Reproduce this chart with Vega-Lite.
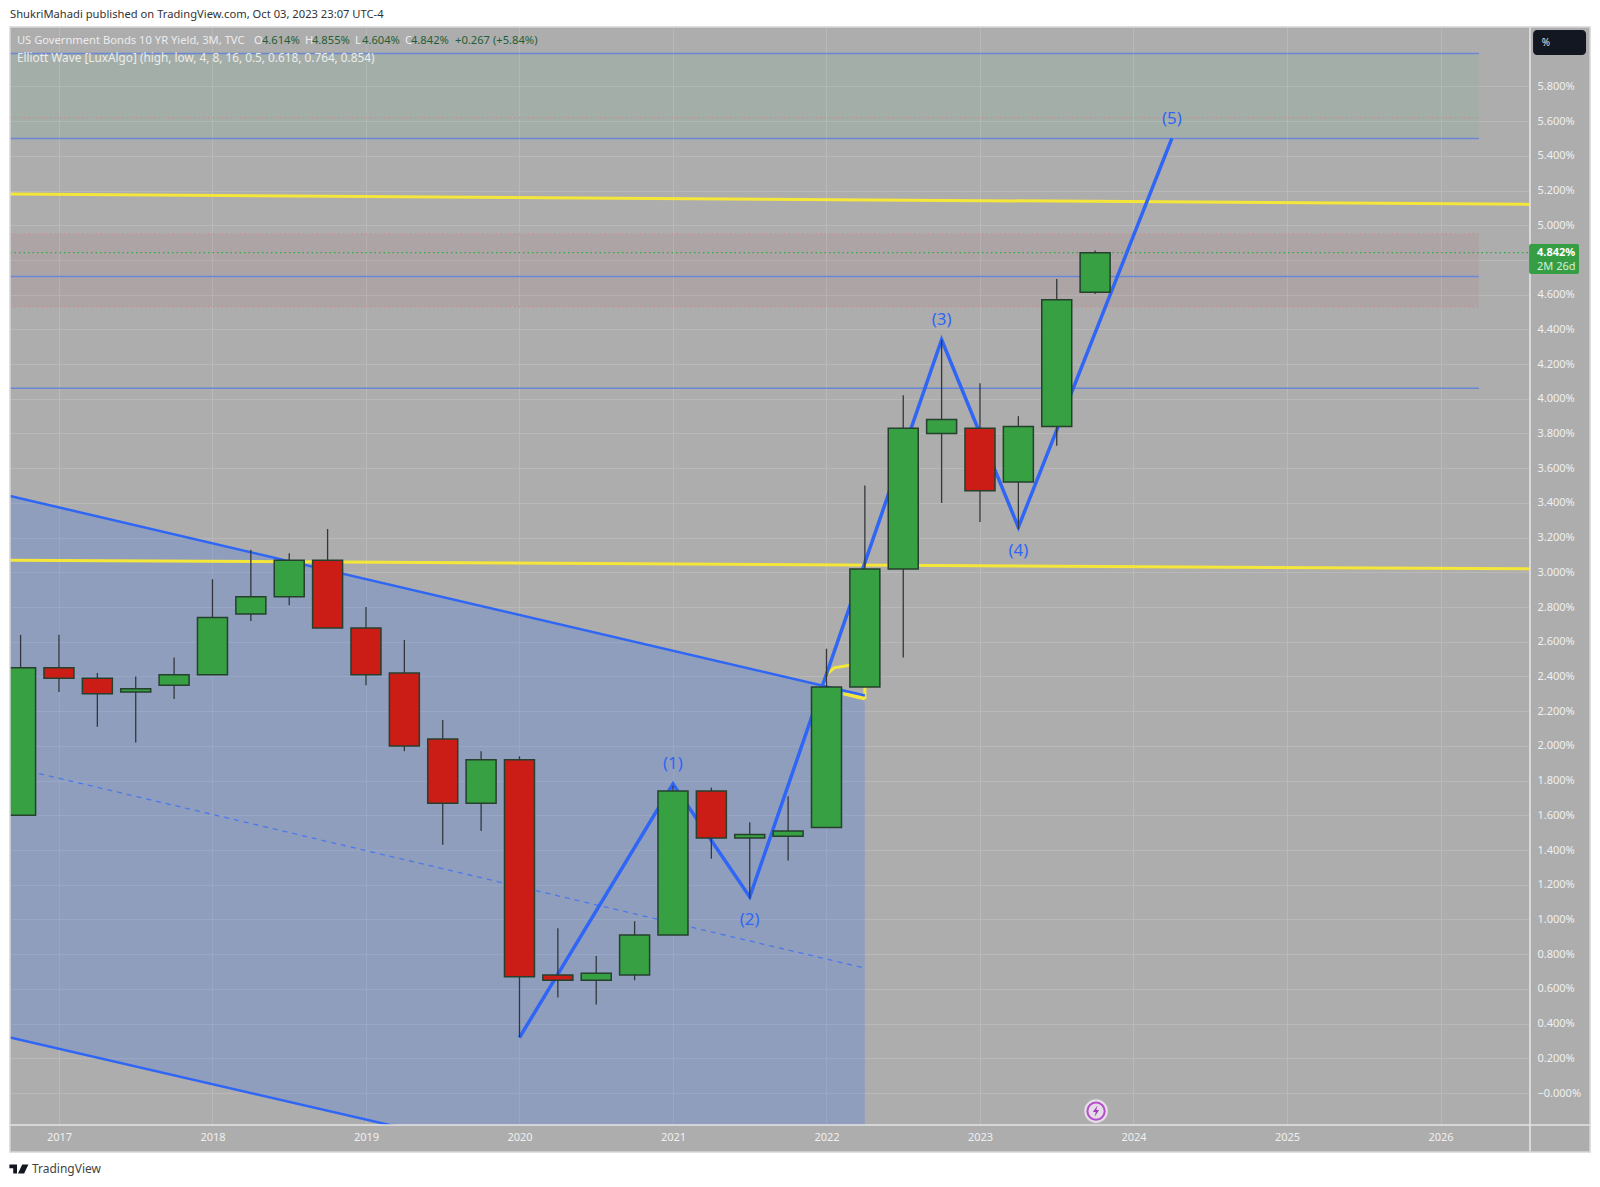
{
"$schema":"https://vega.github.io/schema/vega-lite/v6.json",
"width":1520,"height":1098,"autosize":"none","padding":{"left":10,"top":27,"right":70,"bottom":62},
"background":"#ffffff",
"view":{"fill":"#adadad","stroke":null},
"config":{"text":{"font":"Noto Sans"}},
"encoding":{
"x":{"field":"x","type":"quantitative","scale":{"domain":[2016.681,2026.583],"nice":false,"zero":false,"padding":0},"axis":null},
"y":{"field":"y","type":"quantitative","scale":{"domain":[-0.184,6.142],"nice":false,"zero":false,"padding":0},"axis":null}
},
"resolve":{"scale":{"color":"independent"},"axis":{"x":"independent","y":"independent"}},
"layer":[
{"data":{"values":[{"x":2026.583,"x2":2026.974,"y":-0.34,"y2":6.142},{"x":2016.681,"x2":2026.974,"y":-0.34,"y2":-0.184}]},
"mark":{"type":"rect","fill":"#adadad","clip":false},
"encoding":{"x":{"field":"x","type":"quantitative","scale":{"domain":[2016.681,2026.583],"nice":false,"zero":false,"padding":0},
"axis":{"title":null,"orient":"bottom","values":[2017,2018,2019,2020,2021,2022,2023,2024,2025,2026],"domain":false,"ticks":false,"labels":false,"gridColor":"#b9b9b9","gridWidth":1,"grid":true,"zindex":0}},
"y":{"field":"y","type":"quantitative","scale":{"domain":[-0.184,6.142],"nice":false,"zero":false,"padding":0},
"axis":{"title":null,"orient":"right","values":[0,0.2,0.4,0.6,0.8,1,1.2,1.4,1.6,1.8,2,2.2,2.4,2.6,2.8,3,3.2,3.4,3.6,3.8,4,4.2,4.4,4.6,4.8,5,5.2,5.4,5.6,5.8],"domain":false,"ticks":false,"labels":false,"gridColor":"#b9b9b9","gridWidth":1,"grid":true,"zindex":0}},
"x2":{"field":"x2"},"y2":{"field":"y2"}}},
{"data":{"values":[{"zone":"target","x":2016.681,"x2":2026.25,"y":5.5,"y2":5.99},{"zone":"retrace","x":2016.681,"x2":2026.25,"y":4.53,"y2":4.95}]},
"mark":{"type":"rect","opacity":0.13},"encoding":{"x2":{"field":"x2"},"y2":{"field":"y2"},"color":{"field":"zone","type":"nominal","scale":{"domain":["target","retrace"],"range":["#6bbb8c","#b47171"]},"legend":null}}},
{"data":{"values":[{"x":2016.681,"y":3.44,"y2":0.32},{"x":2022.25,"y":2.29,"y2":-0.815}]},
"mark":{"type":"area","color":"#507fe9","opacity":0.3,"clip":true},"encoding":{"y2":{"field":"y2"}}},
{"data":{"values":[{"i":1,"x":2021.99,"y":2.34},{"i":2,"x":2022.0,"y":2.41},{"i":3,"x":2022.05,"y":2.45},{"i":4,"x":2022.15,"y":2.465},{"i":5,"x":2022.25,"y":2.46},{"i":6,"x":2022.25,"y":2.28},{"i":7,"x":2022.11,"y":2.3},{"i":8,"x":2022.25,"y":2.27}]},
"mark":{"type":"line","color":"#f5e63a","strokeWidth":3},"encoding":{"order":{"field":"i"}}},
{"data":{"values":[{"x":2016.681,"x2":2022.25,"y":3.44,"y2":2.29},{"x":2016.681,"x2":2022.25,"y":0.32,"y2":-0.815}]},
"mark":{"type":"rule","color":"#2f66f5","strokeWidth":2.5,"clip":true},"encoding":{"x2":{"field":"x2"},"y2":{"field":"y2"}}},
{"data":{"values":[{"x":2016.681,"x2":2022.25,"y":1.88,"y2":0.72}]},
"mark":{"type":"rule","color":"#4a78ee","strokeWidth":1.3,"strokeDash":[5,5]},"encoding":{"x2":{"field":"x2"},"y2":{"field":"y2"}}},
{"data":{"values":[{"x":2016.681,"x2":2026.25,"y":5.99},{"x":2016.681,"x2":2026.25,"y":5.5},{"x":2016.681,"x2":2026.25,"y":4.705},{"x":2016.681,"x2":2026.25,"y":4.06}]},
"mark":{"type":"rule","color":"#6a86d6","strokeWidth":1.5},"encoding":{"x2":{"field":"x2"}}},
{"data":{"values":[{"x":2016.681,"x2":2026.25,"y":5.62},{"x":2016.681,"x2":2026.25,"y":4.95},{"x":2016.681,"x2":2026.25,"y":4.53}]},
"mark":{"type":"rule","color":"#d08a8a","strokeWidth":1.2,"strokeDash":[1.5,3]},"encoding":{"x2":{"field":"x2"}}},
{"data":{"values":[{"x":2016.681,"x2":2026.583,"y":4.842}]},
"mark":{"type":"rule","color":"#2fa84a","strokeWidth":1.1,"strokeDash":[1.5,3]},"encoding":{"x2":{"field":"x2"}}},
{"data":{"values":[{"x":2016.681,"x2":2026.583,"y":5.18,"y2":5.12},{"x":2016.681,"x2":2026.583,"y":3.07,"y2":3.02}]},
"mark":{"type":"rule","color":"#f5e63a","strokeWidth":3},"encoding":{"x2":{"field":"x2"},"y2":{"field":"y2"}}},
{"data":{"values":[{"i":1,"x":2020,"y":0.32},{"i":2,"x":2021,"y":1.78},{"i":3,"x":2021.5,"y":1.13},{"i":4,"x":2022.75,"y":4.34},{"i":5,"x":2023.25,"y":3.26},{"i":6,"x":2024.25,"y":5.5}]},
"mark":{"type":"line","color":"#2f66f5","strokeWidth":3.5},"encoding":{"order":{"field":"i"}}},
{"data":{"name":"candles","values":[
{"x":2016.75,"open":1.6,"close":2.45,"high":2.64,"low":1.6,"dir":"up"},
{"x":2017,"open":2.45,"close":2.39,"high":2.64,"low":2.31,"dir":"down"},
{"x":2017.25,"open":2.39,"close":2.3,"high":2.42,"low":2.11,"dir":"down"},
{"x":2017.5,"open":2.31,"close":2.33,"high":2.4,"low":2.02,"dir":"up"},
{"x":2017.75,"open":2.35,"close":2.41,"high":2.51,"low":2.27,"dir":"up"},
{"x":2018,"open":2.41,"close":2.74,"high":2.96,"low":2.41,"dir":"up"},
{"x":2018.25,"open":2.76,"close":2.86,"high":3.13,"low":2.72,"dir":"up"},
{"x":2018.5,"open":2.86,"close":3.07,"high":3.11,"low":2.81,"dir":"up"},
{"x":2018.75,"open":3.07,"close":2.68,"high":3.25,"low":2.68,"dir":"down"},
{"x":2019,"open":2.68,"close":2.41,"high":2.8,"low":2.35,"dir":"down"},
{"x":2019.25,"open":2.42,"close":2.0,"high":2.61,"low":1.97,"dir":"down"},
{"x":2019.5,"open":2.04,"close":1.67,"high":2.15,"low":1.43,"dir":"down"},
{"x":2019.75,"open":1.67,"close":1.92,"high":1.97,"low":1.51,"dir":"up"},
{"x":2020,"open":1.92,"close":0.67,"high":1.94,"low":0.32,"dir":"down"},
{"x":2020.25,"open":0.68,"close":0.65,"high":0.95,"low":0.55,"dir":"down"},
{"x":2020.5,"open":0.65,"close":0.69,"high":0.79,"low":0.51,"dir":"up"},
{"x":2020.75,"open":0.68,"close":0.91,"high":0.99,"low":0.65,"dir":"up"},
{"x":2021,"open":0.91,"close":1.74,"high":1.77,"low":0.91,"dir":"up"},
{"x":2021.25,"open":1.74,"close":1.47,"high":1.76,"low":1.35,"dir":"down"},
{"x":2021.5,"open":1.47,"close":1.49,"high":1.56,"low":1.12,"dir":"up"},
{"x":2021.75,"open":1.48,"close":1.51,"high":1.71,"low":1.34,"dir":"up"},
{"x":2022,"open":1.53,"close":2.34,"high":2.56,"low":1.53,"dir":"up"},
{"x":2022.25,"open":2.34,"close":3.02,"high":3.5,"low":2.34,"dir":"up"},
{"x":2022.5,"open":3.02,"close":3.83,"high":4.02,"low":2.51,"dir":"up"},
{"x":2022.75,"open":3.8,"close":3.88,"high":4.34,"low":3.4,"dir":"up"},
{"x":2023,"open":3.83,"close":3.47,"high":4.09,"low":3.29,"dir":"down"},
{"x":2023.25,"open":3.52,"close":3.84,"high":3.9,"low":3.25,"dir":"up"},
{"x":2023.5,"open":3.84,"close":4.57,"high":4.69,"low":3.73,"dir":"up"},
{"x":2023.75,"open":4.614,"close":4.842,"high":4.855,"low":4.604,"dir":"up"}
]},
"mark":{"type":"rule","color":"#33373c","strokeWidth":1.3,"clip":true},
"encoding":{"y":{"field":"low","type":"quantitative","scale":{"domain":[-0.184,6.142],"nice":false,"zero":false,"padding":0},"axis":null},"y2":{"field":"high"}}},
{"data":{"name":"candles"},
"mark":{"type":"bar","orient":"vertical","size":30,"stroke":"#25402c","strokeWidth":1.5,"clip":true},
"encoding":{"y":{"field":"open","type":"quantitative","scale":{"domain":[-0.184,6.142],"nice":false,"zero":false,"padding":0},"axis":null},"y2":{"field":"close"},
"color":{"field":"dir","type":"nominal","scale":{"domain":["up","down"],"range":["#36a043","#cc1c16"]},"legend":null}}},
{"data":{"values":[{"x":2021,"y":1.9,"label":"(1)"},{"x":2021.5,"y":1.0,"label":"(2)"},{"x":2022.75,"y":4.46,"label":"(3)"},{"x":2023.25,"y":3.13,"label":"(4)"},{"x":2024.25,"y":5.62,"label":"(5)"}]},
"mark":{"type":"text","color":"#2f66f5","fontSize":17,"align":"center","baseline":"middle","dy":1},"encoding":{"text":{"field":"label"}}},
{"data":{"values":[{"x":2016.726,"y":6.062,"label":"US Government Bonds 10 YR Yield, 3M, TVC","tone":"name"},
{"x":2018.27,"y":6.062,"label":"O","tone":"name"},{"x":2018.322,"y":6.062,"label":"4.614%","tone":"value"},
{"x":2018.603,"y":6.062,"label":"H","tone":"name"},{"x":2018.648,"y":6.062,"label":"4.855%","tone":"value"},
{"x":2018.928,"y":6.062,"label":"L","tone":"name"},{"x":2018.974,"y":6.062,"label":"4.604%","tone":"value"},
{"x":2019.254,"y":6.062,"label":"C","tone":"name"},{"x":2019.293,"y":6.062,"label":"4.842%","tone":"value"},
{"x":2019.58,"y":6.062,"label":"+0.267 (+5.84%)","tone":"value"}]},
"mark":{"type":"text","fontSize":11.2,"align":"left","baseline":"middle"},
"encoding":{"text":{"field":"label"},"color":{"field":"tone","type":"nominal","scale":{"domain":["name","value"],"range":["#ececec","#1f5f35"]},"legend":null}}},
{"data":{"values":[{"x":2016.726,"y":5.964,"label":"Elliott Wave [LuxAlgo] (high, low, 4, 8, 16, 0.5, 0.618, 0.764, 0.854)"}]},
"mark":{"type":"text","fontSize":11.8,"align":"left","baseline":"middle","color":"#ececec"},"encoding":{"text":{"field":"label"}}},
{"data":{"values":[{"x":2016.681,"y":6.214,"label":"ShukriMahadi published on TradingView.com, Oct 03, 2023 23:07 UTC-4"}]},
"mark":{"type":"text","fontSize":11.2,"align":"left","baseline":"middle","color":"#333333","clip":false},"encoding":{"text":{"field":"label"}}},
{"data":{"values":[{"x":2016.824,"y":-0.438,"label":"TradingView"}]},
"mark":{"type":"text","fontSize":12,"align":"left","baseline":"middle","color":"#444444","clip":false},"encoding":{"text":{"field":"label"}}},
{"data":{"values":[{"x":2016.739,"y":-0.438}]},
"mark":{"type":"point","filled":true,"opacity":1,"color":"#131722","size":361,"clip":false,"shape":"M-1,-0.47 H-0.2 V0.47 H-0.6 V-0.1 H-1 Z M0.35,-0.47 H1 L0.55,0.47 H-0.1 Z"}},
{"data":{"values":[{"x":2026.603,"x2":2026.948,"y":6.125,"y2":5.981}]},
"mark":{"type":"rect","fill":"#131722","cornerRadius":4,"clip":false},"encoding":{"x2":{"field":"x2"},"y2":{"field":"y2"}}},
{"data":{"values":[{"x":2026.66,"y":6.05,"label":"%"}]},
"mark":{"type":"text","fontSize":10,"align":"left","baseline":"middle","color":"#e0e0e0","clip":false},"encoding":{"text":{"field":"label"}}},
{"data":{"values":[{"x":2026.583,"x2":2026.583,"y":-0.34,"y2":6.142},{"x":2016.681,"x2":2026.974,"y":-0.184,"y2":-0.184}]},
"mark":{"type":"rule","color":"#e4e4e4","strokeWidth":1.6,"clip":false},"encoding":{"x2":{"field":"x2"},"y2":{"field":"y2"}}},
{"data":{"values":[{"x":2016.681,"x2":2026.974,"y":-0.34,"y2":6.142}]},
"mark":{"type":"rect","fillOpacity":0,"stroke":"#d6d6d6","strokeWidth":1.5,"clip":false},"encoding":{"x2":{"field":"x2"},"y2":{"field":"y2"}}},
{"data":{"values":[{"x":2026.577,"x2":2026.902,"y":4.892,"y2":4.719}]},
"mark":{"type":"rect","fill":"#359e44","cornerRadius":2,"clip":false},"encoding":{"x2":{"field":"x2"},"y2":{"field":"y2"}}},
{"data":{"values":[{"x":2026.629,"y":4.84,"label":"4.842%"}]},
"mark":{"type":"text","fontSize":11,"fontWeight":"bold","align":"left","baseline":"middle","color":"#ffffff","clip":false},"encoding":{"text":{"field":"label"}}},
{"data":{"values":[{"x":2026.629,"y":4.76,"label":"2M 26d"}]},
"mark":{"type":"text","fontSize":11,"align":"left","baseline":"middle","color":"#d8f0dc","clip":false},"encoding":{"text":{"field":"label"}}},
{"data":{"values":[{"x":2023.756,"y":-0.104}]},
"mark":{"type":"point","filled":true,"opacity":1,"color":"#e6dce8","size":560,"shape":"circle"}},
{"data":{"values":[{"x":2023.756,"y":-0.104}]},
"mark":{"type":"point","filled":false,"opacity":1,"color":"#b44fc9","strokeWidth":2,"size":300,"shape":"circle"}},
{"data":{"values":[{"x":2023.756,"y":-0.104}]},
"mark":{"type":"point","filled":true,"opacity":1,"color":"#a53dc0","size":130,"shape":"M0.25,-1 L-0.55,0.15 H-0.05 L-0.25,1 L0.55,-0.2 H0.05 Z"},
"encoding":{"x":{"field":"x","type":"quantitative","scale":{"domain":[2016.681,2026.583],"nice":false,"zero":false,"padding":0},
"axis":{"title":null,"orient":"bottom","values":[2017,2018,2019,2020,2021,2022,2023,2024,2025,2026],"format":"d","domain":false,"ticks":false,"grid":false,"labelPadding":6,"labelColor":"#f0f0f0","labelFont":"Noto Sans","labelFontSize":11,"zindex":1}},
"y":{"field":"y","type":"quantitative","scale":{"domain":[-0.184,6.142],"nice":false,"zero":false,"padding":0},
"axis":{"title":null,"orient":"right","values":[0,0.2,0.4,0.6,0.8,1,1.2,1.4,1.6,1.8,2,2.2,2.4,2.6,2.8,3,3.2,3.4,3.6,3.8,4,4.2,4.4,4.6,5,5.2,5.4,5.6,5.8],"labelExpr":"datum.value==0?'−0.000%':format(datum.value,'.3f')+'%'","domain":false,"ticks":false,"grid":false,"labelPadding":7,"labelColor":"#f0f0f0","labelFont":"Noto Sans","labelFontSize":11,"zindex":1}}}}
]
}
